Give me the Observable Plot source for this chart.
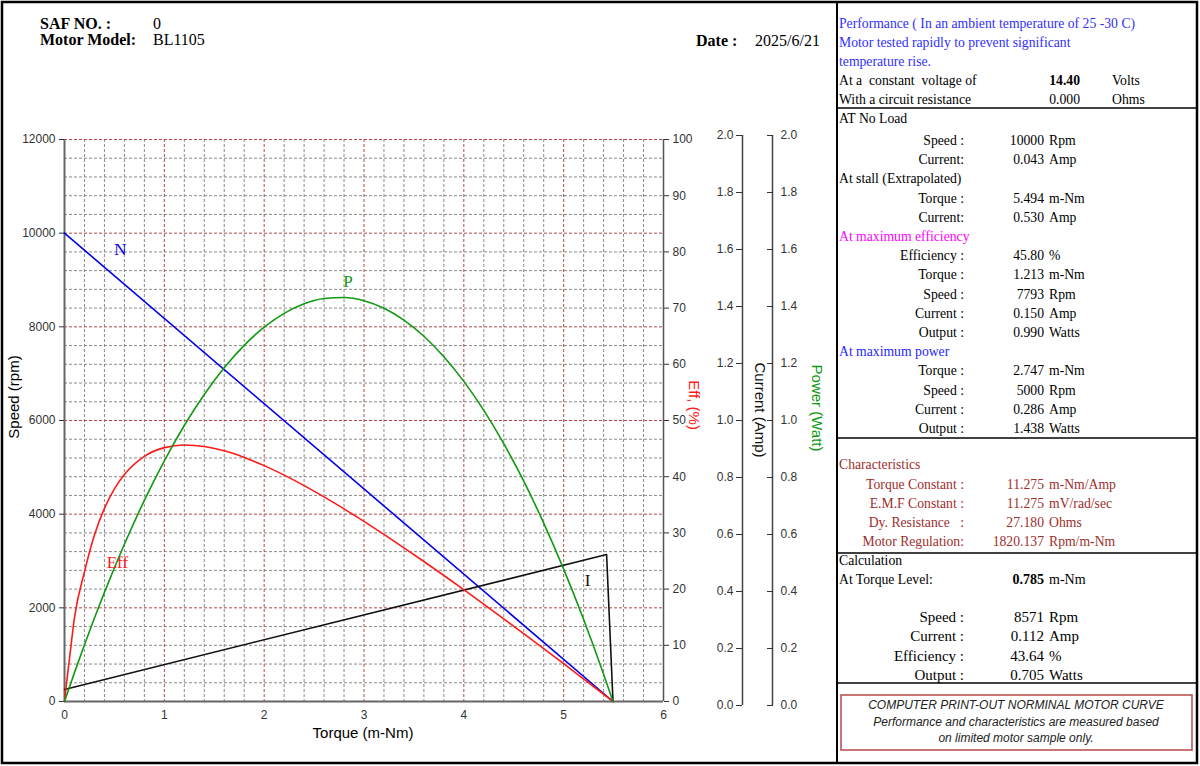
<!DOCTYPE html>
<html><head><meta charset="utf-8">
<script src="https://cdn.jsdelivr.net/npm/d3@7"></script>
<script src="https://cdn.jsdelivr.net/npm/@observablehq/plot@0.6"></script>
<style>
html,body{margin:0;padding:0;background:#fff;}
#wrap{position:relative;width:1200px;height:766px;overflow:hidden;background:#fff;}
#wrap svg{position:absolute;left:0;top:0;}
</style></head><body><div id="wrap"></div>
<script>
// ---------- chart data ----------
const torque = [0, 0.02, 0.05, 0.1, 0.2, 0.3, 0.4, 0.5, 0.6, 0.8, 1.0, 1.2, 1.4, 1.6, 1.8, 2.0, 2.2, 2.4, 2.6, 2.8, 3.0, 3.2, 3.4, 3.6, 3.8, 4.0, 4.2, 4.4, 4.6, 4.8, 5.0, 5.2, 5.4, 5.494];
const efficiencyPct = [0, 3.24, 7.61, 14.91, 23.07, 29.63, 34.37, 37.84, 40.39, 43.62, 45.17, 45.65, 45.38, 44.60, 43.43, 41.97, 40.28, 38.42, 36.40, 34.27, 32.04, 29.73, 27.35, 24.91, 22.42, 19.89, 17.31, 14.71, 12.07, 9.41, 6.72, 4.01, 1.29, 0];
const powerWatt = [0, 0.0209, 0.0519, 0.1028, 0.2018, 0.2970, 0.3884, 0.4760, 0.5597, 0.7158, 0.8566, 0.9822, 1.0925, 1.1876, 1.2674, 1.3320, 1.3813, 1.4154, 1.4342, 1.4378, 1.4262, 1.3993, 1.3571, 1.2997, 1.2270, 1.1392, 1.0360, 0.9176, 0.7839, 0.6350, 0.4709, 0.2915, 0.0969, 0];
const speedTorque = [0, 5.494];
const speedRpm = [10000, 0];
const currentTorque = [0, 5.43, 5.494];
const currentAmp = [0.043, 0.523, 0];

const curveLabels = ["N", "P", "Eff", "I"];
const curveLabelTorque = [0.56, 2.84, 0.53, 5.24];
const curveLabelValue = [9650, 1.495, 24.7, 0.43]; // rpm, W, %, A
const curveLabelUnit = ["rpm", "W", "%", "A"];

const torqueTicks = [0, 1, 2, 3, 4, 5, 6];
const speedTicks = [0, 2000, 4000, 6000, 8000, 10000, 12000];
const effTicks = [0, 10, 20, 30, 40, 50, 60, 70, 80, 90, 100];
const ampTicks = [0, 0.2, 0.4, 0.6, 0.8, 1.0, 1.2, 1.4, 1.6, 1.8, 2.0];
const wattTicks = [0, 0.2, 0.4, 0.6, 0.8, 1.0, 1.2, 1.4, 1.6, 1.8, 2.0];

// ---------- panel text ----------
const header = {saf: "0", model: "BL1105", date: "2025/6/21"};
const perfLines = ["Performance ( In an ambient temperature of 25 -30 C)", "Motor tested rapidly to prevent significant", "temperature rise."];
const supplyRows = [["At a  constant  voltage of", "14.40", "Volts"], ["With a circuit resistance", "0.000", "Ohms"]];
const perfRows = [
  ["h", "AT No Load", "#000"],
  ["r", "Speed :", "10000", "Rpm"],
  ["r", "Current:", "0.043", "Amp"],
  ["h", "At stall (Extrapolated)", "#000"],
  ["r", "Torque :", "5.494", "m-Nm"],
  ["r", "Current:", "0.530", "Amp"],
  ["h", "At maximum efficiency", "#ff00ff"],
  ["r", "Efficiency :", "45.80", "%"],
  ["r", "Torque :", "1.213", "m-Nm"],
  ["r", "Speed :", "7793", "Rpm"],
  ["r", "Current :", "0.150", "Amp"],
  ["r", "Output :", "0.990", "Watts"],
  ["h", "At maximum power", "#1f1fff"],
  ["r", "Torque :", "2.747", "m-Nm"],
  ["r", "Speed :", "5000", "Rpm"],
  ["r", "Current :", "0.286", "Amp"],
  ["r", "Output :", "1.438", "Watts"]
];
const charRows = [["Torque Constant :", "11.275", "m-Nm/Amp"], ["E.M.F Constant :", "11.275", "mV/rad/sec"], ["Dy. Resistance   :", "27.180", "Ohms"], ["Motor Regulation:", "1820.137", "Rpm/m-Nm"]];
const calcLevel = ["0.785", "m-Nm"];
const calcRows = [["Speed :", "8571", "Rpm"], ["Current :", "0.112", "Amp"], ["Efficiency :", "43.64", "%"], ["Output :", "0.705", "Watts"]];
const noteLines = ["COMPUTER PRINT-OUT NORMINAL MOTOR CURVE", "Performance and characteristics are measured based", "on limited motor sample only."];

// ---------- build tables ----------
const toSpeedUnits = {rpm: 1, "%": 120, A: 6000, W: 6000};
const effData = torque.map((t, i) => ({t, v: efficiencyPct[i] * toSpeedUnits["%"]}));
const powData = torque.map((t, i) => ({t, v: powerWatt[i] * toSpeedUnits.W}));
const spdData = speedTorque.map((t, i) => ({t, v: speedRpm[i]}));
const curData = currentTorque.map((t, i) => ({t, v: currentAmp[i] * toSpeedUnits.A}));
const labelColors = {N: "#0000ee", P: "#119911", Eff: "#ff1a1a", I: "#111"};
const labelData = curveLabels.map((name, i) => ({name, t: curveLabelTorque[i], v: curveLabelValue[i] * toSpeedUnits[curveLabelUnit[i]]}));

const minorX = d3.range(1, 30).filter(i => i % 5).map(i => i / 5);
const majorX = [1, 2, 3, 4, 5];
const minorY = d3.range(1, 30).filter(i => i % 5).map(i => i * 400);
const majorY = [2000, 4000, 6000, 8000, 10000, 12000];

const sans = "Liberation Sans, Arial, sans-serif";
const serif = "Liberation Serif, Times New Roman, serif";

const main = Plot.plot({
  width: 836, height: 766,
  marginLeft: 64, marginRight: 173, marginTop: 139, marginBottom: 65,
  x: {domain: [0, 6]},
  y: {domain: [0, 12000]},
  style: {background: "transparent", fontFamily: sans, fontSize: "12px", color: "#333", overflow: "visible"},
  marks: [
    Plot.ruleX(minorX, {x: d => d, stroke: "#8a8a8a", strokeWidth: 1, strokeDasharray: "3,2"}),
    Plot.ruleY(minorY, {y: d => d, stroke: "#8a8a8a", strokeWidth: 1, strokeDasharray: "3,2"}),
    Plot.ruleX(majorX, {x: d => d, stroke: "#b24a4a", strokeWidth: 1, strokeDasharray: "3,2"}),
    Plot.ruleY(majorY, {y: d => d, stroke: "#b24a4a", strokeWidth: 1, strokeDasharray: "3,2"}),
    Plot.ruleX([0], {stroke: "#666", strokeWidth: 2}),
    Plot.ruleY([0], {stroke: "#666", strokeWidth: 2}),
    Plot.ruleX([6], {stroke: "#555", strokeWidth: 1.5}),
    Plot.axisY(speedTicks, {anchor: "left", tickSize: 5, tickPadding: 4, label: null, fontSize: 12, tickFormat: d => String(d)}),
    Plot.axisX(torqueTicks, {anchor: "bottom", tickSize: 0, tickPadding: 9, label: null, fontSize: 12}),
    Plot.axisY(effTicks.map(d => d * toSpeedUnits["%"]), {anchor: "right", tickSize: 5, tickPadding: 4, label: null, fontSize: 12, tickFormat: d => String(Math.round(d / toSpeedUnits["%"]))}),
    Plot.line(spdData, {x: "t", y: "v", stroke: labelColors.N, strokeWidth: 1.6}),
    Plot.line(curData, {x: "t", y: "v", stroke: labelColors.I, strokeWidth: 1.6}),
    Plot.line(effData, {x: "t", y: "v", stroke: labelColors.Eff, strokeWidth: 1.6, curve: "monotone-x"}),
    Plot.line(powData, {x: "t", y: "v", stroke: labelColors.P, strokeWidth: 1.6, curve: "monotone-x"}),
    Plot.text(labelData, {x: "t", y: "v", text: "name", fill: d => labelColors[d.name], fontFamily: serif, fontSize: 17})
  ]
});

const side = Plot.plot({
  width: 836, height: 766,
  marginLeft: 742, marginRight: 64, marginTop: 135, marginBottom: 61,
  x: {domain: [0, 1], axis: null},
  y: {domain: [0, 2]},
  style: {background: "transparent", fontFamily: sans, fontSize: "12px", color: "#333", overflow: "visible"},
  marks: [
    Plot.ruleX([0, 1], {stroke: "#444", strokeWidth: 1.5}),
    Plot.axisY(ampTicks, {anchor: "left", tickSize: 6, tickPadding: 3, label: null, fontSize: 12, tickFormat: d3.format(".1f")}),
    Plot.axisY(wattTicks, {anchor: "right", tickSize: 6, dx: -6, tickPadding: 8, label: null, fontSize: 12, tickFormat: d3.format(".1f")})
  ]
});

const wrap = document.getElementById("wrap");
wrap.appendChild(main);
wrap.appendChild(side);

// ---------- overlay: frame, header and data panel ----------
const svg = d3.select(wrap).append("svg").attr("width", 1200).attr("height", 766);
svg.append("rect").attr("x", 2).attr("y", 2).attr("width", 1195).attr("height", 761).attr("fill", "none").attr("stroke", "#000").attr("stroke-width", 2.5);
svg.append("line").attr("x1", 837).attr("x2", 837).attr("y1", 2).attr("y2", 763).attr("stroke", "#000").attr("stroke-width", 2);
[108, 438, 553, 683].forEach(y => svg.append("line").attr("x1", 837).attr("x2", 1197).attr("y1", y).attr("y2", y).attr("stroke", "#000").attr("stroke-width", 1.6));
svg.append("rect").attr("x", 841).attr("y", 695).attr("width", 351).attr("height", 55).attr("fill", "none").attr("stroke", "#b84848").attr("stroke-width", 1.5);

function txt(x, y, s, o = {}) {
  const t = svg.append("text").attr("x", x).attr("y", y).text(s)
    .attr("font-family", o.family || serif).attr("font-size", o.size || 13.7)
    .attr("fill", o.fill || "#000").attr("text-anchor", o.anchor || "start")
    .style("white-space", "pre");
  if (o.bold) t.attr("font-weight", "bold");
  if (o.italic) t.attr("font-style", "italic");
  if (o.transform) t.attr("transform", o.transform).attr("x", 0).attr("y", 0).attr("dy", "0.35em");
  return t;
}

// header
txt(40, 29, "SAF NO. :", {size: 16, bold: true});
txt(153, 29, header.saf, {size: 16});
txt(40, 45, "Motor Model:", {size: 16, bold: true});
txt(153, 45, header.model, {size: 16});
txt(696, 46, "Date :", {size: 16, bold: true});
txt(755, 46, header.date, {size: 16});

// axis titles
txt(0, 0, "Speed (rpm)", {family: sans, size: 15, anchor: "middle", transform: "translate(14,397) rotate(-90)"});
txt(363, 738, "Torque (m-Nm)", {family: sans, size: 15, anchor: "middle"});
txt(0, 0, "Eff, (%)", {family: sans, size: 15, anchor: "middle", fill: "#ff1a1a", transform: "translate(694,405) rotate(90)"});
txt(0, 0, "Current (Amp)", {family: sans, size: 15, anchor: "middle", fill: "#111", transform: "translate(760,410) rotate(90)"});
txt(0, 0, "Power (Watt)", {family: sans, size: 15, anchor: "middle", fill: "#119911", transform: "translate(817,408) rotate(90)"});

// panel: performance
const blue = "#3030ff", darkRed = "#9e2e2e";
perfLines.forEach((s, i) => txt(839, 28 + 19 * i, s, {fill: blue}));
supplyRows.forEach((r, i) => {
  const y = 85 + 19 * i;
  txt(839, y, r[0]);
  txt(1080, y, r[1], {anchor: "end", bold: i === 0});
  txt(1112, y, r[2]);
});
perfRows.forEach((r, i) => {
  const y = i === 0 ? 123 : 145 + 19.2 * (i - 1);
  if (r[0] === "h") txt(839, y, r[1], {fill: r[2]});
  else { txt(964, y, r[1], {anchor: "end"}); txt(1044, y, r[2], {anchor: "end"}); txt(1049, y, r[3]); }
});
txt(839, 469, "Characteristics", {fill: darkRed});
charRows.forEach((r, i) => {
  const y = 489 + 19 * i;
  txt(964, y, r[0], {anchor: "end", fill: darkRed});
  txt(1044, y, r[1], {anchor: "end", fill: darkRed});
  txt(1049, y, r[2], {fill: darkRed});
});
txt(839, 565, "Calculation");
txt(839, 584, "At Torque Level:");
txt(1044, 584, calcLevel[0], {anchor: "end", bold: true, size: 14});
txt(1049, 584, calcLevel[1], {size: 14});
calcRows.forEach((r, i) => {
  const y = 622 + 19.3 * i;
  txt(964, y, r[0], {anchor: "end", size: 15});
  txt(1044, y, r[1], {anchor: "end", size: 15});
  txt(1049, y, r[2], {size: 15});
});
noteLines.forEach((s, i) => txt(1016, 709 + 16.5 * i, s, {family: sans, size: 12, italic: true, anchor: "middle", fill: "#222"}));
</script>
</body></html>
